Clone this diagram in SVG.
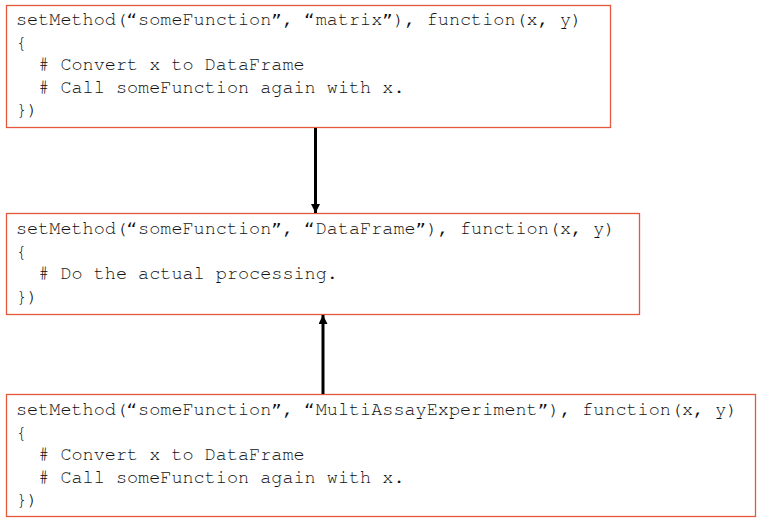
<svg xmlns="http://www.w3.org/2000/svg" width="767" height="527" viewBox="0 0 767 527">
<style>
.box{fill:#fff;stroke:#E5573A;stroke-width:1.3}
.code{font-family:"Nimbus Mono PS","FreeMono","Courier New","Liberation Mono",monospace;font-size:18.5px;fill:#111;white-space:pre}
.conn{stroke:#000;stroke-width:3;fill:none}
</style>
<defs>
<marker id="ah" viewBox="0 0 10 10" refX="10" refY="5" markerWidth="3" markerHeight="3" orient="auto" markerUnits="strokeWidth">
<path d="M0,0 L10,5 L0,10 Z" fill="#000"/>
</marker>
</defs>
<rect width="767" height="527" fill="#fff"/>
<g id="node-matrix">
<rect class="box" x="6.5" y="5.5" width="604" height="122"/>
<text class="code" xml:space="preserve"><tspan x="16" y="25">setMethod(“someFunction”, “matrix”), function(x, y)</tspan><tspan x="16" y="47.5">{</tspan><tspan x="16" y="70">  # Convert x to DataFrame</tspan><tspan x="16" y="92.5">  # Call someFunction again with x.</tspan><tspan x="16" y="115">})</tspan></text>
</g>
<g id="node-dataframe">
<rect class="box" x="6.5" y="213.5" width="633" height="101"/>
<text class="code" xml:space="preserve"><tspan x="16" y="234">setMethod(“someFunction”, “DataFrame”), function(x, y)</tspan><tspan x="16" y="256.5">{</tspan><tspan x="16" y="279">  # Do the actual processing.</tspan><tspan x="16" y="301.5">})</tspan></text>
</g>
<g id="node-mae">
<rect class="box" x="6.5" y="394.5" width="749" height="122"/>
<text class="code" xml:space="preserve"><tspan x="16" y="415">setMethod(“someFunction”, “MultiAssayExperiment”), function(x, y)</tspan><tspan x="16" y="437.5">{</tspan><tspan x="16" y="460">  # Convert x to DataFrame</tspan><tspan x="16" y="482.5">  # Call someFunction again with x.</tspan><tspan x="16" y="505">})</tspan></text>
</g>
<g id="connectors">
<line class="conn" x1="315.5" y1="128" x2="315.5" y2="213" marker-end="url(#ah)"/>
<line class="conn" x1="323" y1="394" x2="323" y2="315" marker-end="url(#ah)"/>
</g>
</svg>
